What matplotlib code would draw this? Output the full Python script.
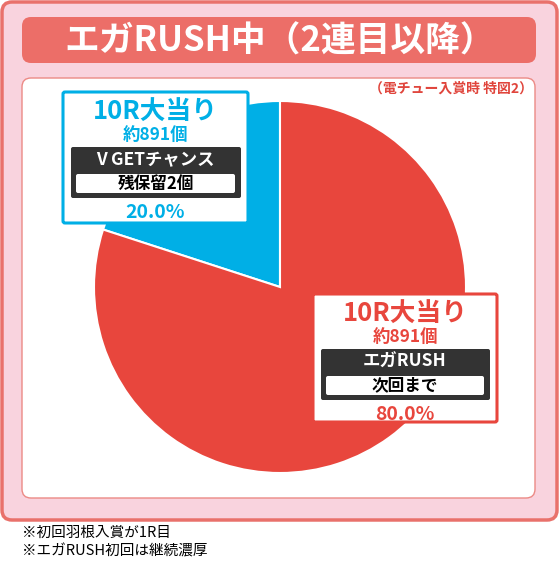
import matplotlib
matplotlib.use("Agg")
import matplotlib.pyplot as plt
from matplotlib.patches import FancyBboxPatch

plt.rcParams['font.family'] = ['Noto Sans CJK JP', 'DejaVu Sans']

# chart data
title = "エガRUSH中（2連目以降）"
subtitle = "（電チュー入賞時 特図2）"
shares = [20.0, 80.0]
labels = ["10R大当り", "10R大当り"]
payouts = ["約891個", "約891個"]
modes = ["V\u2005GETチャンス", "エガRUSH"]
notes = ["残保留2個", "次回まで"]
footnotes = ["※初回羽根入賞が1R目", "※エガRUSH初回は継続濃厚"]

RED = "#e8463d"
BLUE = "#00afe6"
PINK = "#f9d3de"
FRAME = "#e9716b"
DARK = "#333333"

W, H = 560, 562
fig = plt.figure(figsize=(W / 100, H / 100), dpi=100)

# background layer in pixel coords
bg = fig.add_axes([0, 0, 1, 1], zorder=0)
bg.set_xlim(0, W)
bg.set_ylim(H, 0)
bg.axis("off")

def rbox(ax, x0, y0, x1, y1, fc, ec="none", lw=0, r=8, z=1):
    ax.add_patch(FancyBboxPatch((x0 + r, y0 + r), x1 - x0 - 2 * r, y1 - y0 - 2 * r,
                                boxstyle=f"round,pad={r}", fc=fc, ec=ec, lw=lw, zorder=z))

rbox(bg, 2, 2, 557, 520, PINK, FRAME, 2.5, r=10)
rbox(bg, 22, 17, 536, 63, "#ec6e68", r=9)
rbox(bg, 22, 78, 535, 498, "white", "#ec8a85", 1, r=9)
bg.text(280, 41, title, color="white", fontsize=25, fontweight="bold", ha="center", va="center")
bg.text(533, 89, subtitle, color="#e0453c", fontsize=10, fontweight="bold", ha="right", va="center")
for i, t in enumerate(footnotes):
    bg.text(22, 533 + i * 18, t, color="black", fontsize=10.5, ha="left", va="center")

# pie
cx, cy, r = 280, 287, 186
pax = fig.add_axes([(cx - r) / W, (H - cy - r) / H, 2 * r / W, 2 * r / H], zorder=1)
pax.pie(shares, colors=[BLUE, RED], startangle=90, counterclock=True,
        wedgeprops=dict(edgecolor="white", linewidth=1.5))
pax.set_xlim(-1, 1)
pax.set_ylim(-1, 1)
pax.axis("off")

# label boxes on top
ov = fig.add_axes([0, 0, 1, 1], zorder=2)
ov.set_xlim(0, W)
ov.set_ylim(H, 0)
ov.axis("off")
ov.patch.set_alpha(0)

boxes = [(63, 92, 248, 223, BLUE), (313, 294, 497, 422, RED)]
for i, (x0, y0, x1, y1, col) in enumerate(boxes):
    rbox(ov, x0, y0, x1, y1, "white", col, 2.2, r=2)
    xc = (x0 + x1) / 2
    ov.text(xc, y0 + 20, labels[i], color=col, fontsize=18.5, fontweight="bold", ha="center", va="center")
    ov.text(xc, y0 + 43, payouts[i], color=col, fontsize=12.5, fontweight="bold", ha="center", va="center")
    rbox(ov, x0 + 8, y0 + 55, x1 - 7, y0 + 106, DARK, r=2, z=2)
    ov.text(xc, y0 + 68, modes[i], color="white", fontsize=12.5, fontweight="bold", ha="center", va="center", zorder=3)
    rbox(ov, x0 + 13, y0 + 82, x1 - 13, y0 + 101, "white", r=2, z=3)
    ov.text(xc, y0 + 91.5, notes[i], color="black", fontsize=12, fontweight="bold", ha="center", va="center", zorder=4)
    ov.text(xc, y0 + 120, f"{shares[i]:.1f}%", color=col, fontsize=14, fontweight="bold", ha="center", va="center")

fig.savefig("out.png", dpi=100)
